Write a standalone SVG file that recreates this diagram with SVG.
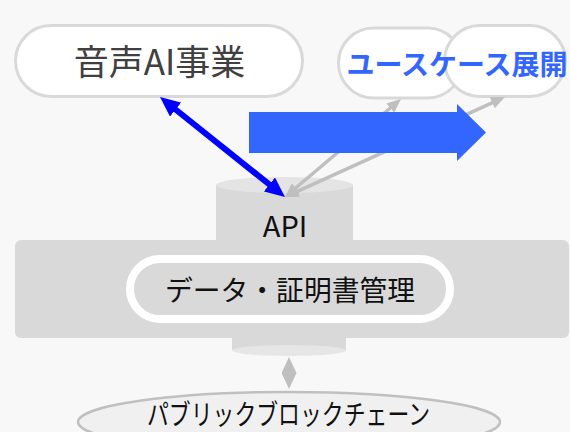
<svg xmlns="http://www.w3.org/2000/svg" width="570" height="432" viewBox="0 0 570 432">
<style>
.pill{fill:#ffffff;stroke:#d9d9d9;stroke-width:3}
.jp{font-family:"Noto Sans CJK JP","Noto Sans",sans-serif;text-anchor:middle}
.gline{stroke:#bfbfbf;stroke-width:3.5;fill:none}
.bline{stroke:#0000ff;stroke-width:6;fill:none}
</style>
<defs>
<marker id="bh" viewBox="0 0 20 18" markerWidth="20" markerHeight="18" refX="10" refY="9" orient="auto-start-reverse" markerUnits="userSpaceOnUse">
<path d="M0,0 L20,9 L0,18 z" fill="#0000ff"/>
</marker>
<marker id="gh" viewBox="0 0 14 12" markerWidth="14" markerHeight="12" refX="7" refY="6" orient="auto-start-reverse" markerUnits="userSpaceOnUse">
<path d="M0,0 L14,6 L0,12 z" fill="#bfbfbf"/>
</marker>
<marker id="vh" viewBox="0 0 16 15" markerWidth="16" markerHeight="15" refX="8" refY="7.5" orient="auto-start-reverse" markerUnits="userSpaceOnUse">
<path d="M0,0 L16,7.5 L0,15 z" fill="#bfbfbf"/>
</marker>
</defs>
<rect x="0" y="0" width="570" height="432" fill="#f8f8f8"/>

<g id="voice-ai">
<rect class="pill" x="15.5" y="25.5" width="287" height="71" rx="35.5"/>
<text class="jp" x="159.5" y="75" font-size="35" fill="#404040">音声AI事業</text>
</g>

<g id="usecase">
<rect class="pill" x="338.5" y="28" width="124" height="70" rx="35"/>
<rect class="pill" x="444.5" y="25.5" width="121" height="71" rx="35.5"/>
<text class="jp" x="457" y="75" font-size="28" font-weight="bold" fill="#3366ff">ユースケース展開</text>
</g>

<g id="platform">
<rect x="216" y="185" width="137" height="60" fill="#d9d9d9"/>
<ellipse cx="284.5" cy="185" rx="68.5" ry="8" fill="#e4e4e4"/>
<rect x="15" y="240" width="554" height="98" rx="6" fill="#d9d9d9"/>
<rect x="232" y="330" width="114" height="20.5" fill="#d9d9d9"/>
<ellipse cx="289" cy="350.5" rx="57" ry="5.5" fill="#e6e6e6"/>
<text class="jp" x="285" y="237" font-size="29" fill="#111111">API</text>
</g>

<g id="data-cert">
<rect x="130" y="259" width="320" height="60" rx="30" fill="#d9d9d9" stroke="#ffffff" stroke-width="8"/>
<text class="jp" x="290" y="301" font-size="28" fill="#111111" textLength="250" lengthAdjust="spacingAndGlyphs">データ・証明書管理</text>
</g>

<g id="blockchain">
<ellipse cx="289" cy="422" rx="211" ry="30" fill="#f0f0f0" stroke="#c0c0c0" stroke-width="2.5"/>
<text class="jp" x="288.5" y="425" font-size="28" fill="#111111" textLength="283" lengthAdjust="spacingAndGlyphs">パブリックブロックチェーン</text>
</g>

<g id="connectors">
<line class="gline" x1="290.35" y1="192.48" x2="395.65" y2="103.52" marker-start="url(#gh)" marker-end="url(#gh)"/>
<line class="gline" x1="291.37" y1="194.1" x2="498.63" y2="99.9" marker-start="url(#gh)" marker-end="url(#gh)"/>
<line class="bline" x1="167.8" y1="103.25" x2="277.2" y2="190.75" marker-start="url(#bh)" marker-end="url(#bh)"/>
<line class="gline" x1="289" y1="365" x2="289" y2="381" stroke-width="2" marker-start="url(#vh)" marker-end="url(#vh)"/>
</g>

<g id="expansion-arrow">
<path d="M249,112 L457,112 L457,104 L486,132.5 L457,161 L457,153 L249,153 z" fill="#3366ff"/>
</g>
</svg>
